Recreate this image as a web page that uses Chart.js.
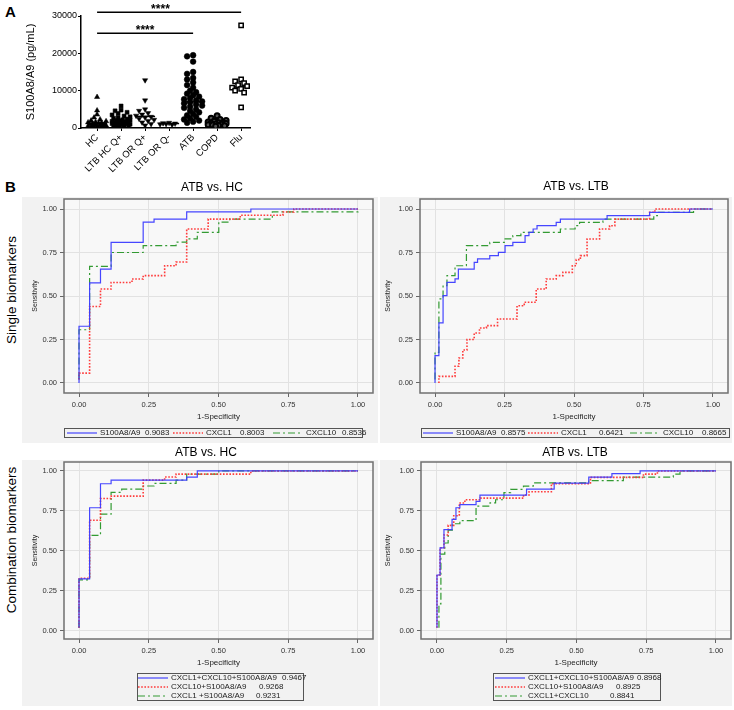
<!DOCTYPE html>
<html>
<head>
<meta charset="utf-8">
<script src="https://cdn.jsdelivr.net/npm/chart.js@4.4.0/dist/chart.umd.min.js"></script>
<style>
  body { margin: 0; background: #fff; width: 734px; height: 710px; position: relative; overflow: hidden;
         font-family: "Liberation Sans", Arial, sans-serif; }
  canvas { position: absolute; }
  .lbl { position: absolute; font-weight: bold; font-size: 15px; color: #000; }
  .side { position: absolute; height: 18px; line-height: 18px; text-align: center; white-space: nowrap;
          font-size: 13.5px; color: #000; transform: rotate(-90deg); transform-origin: center; }
</style>
</head>
<body>
<div class="lbl" style="left:5px;top:3px">A</div>
<div class="lbl" style="left:5px;top:178px">B</div>
<div class="side" style="left:-88px;top:281px;width:200px">Single biomarkers</div>
<div class="side" style="left:-88px;top:531px;width:200px">Combination biomarkers</div>

<canvas id="dotChart" width="262" height="178" style="left:0;top:0"></canvas>
<canvas id="rocHcSingle" width="380" height="268" style="left:0;top:176px"></canvas>
<canvas id="rocLtbSingle" width="354" height="268" style="left:380px;top:176px"></canvas>
<canvas id="rocHcCombo" width="380" height="266" style="left:0;top:444px"></canvas>
<canvas id="rocLtbCombo" width="354" height="266" style="left:380px;top:444px"></canvas>

<script>
// ---- panel A: S100A8/A9 levels per group ----
const groupNames = ['HC', 'LTB HC Q+', 'LTB OR Q+', 'LTB OR Q-', 'ATB', 'COPD', 'Flu'];
const hcValues = [8300, 4700, 3600, 2800, 2300, 2000, 1800, 1600, 1500, 1400, 1300, 1200, 1100, 1000, 900, 800, 700, 650, 600, 500, 450, 400, 350, 300, 200, 100];
const ltbHcValues = [5900, 4800, 4600, 4200, 3900, 3500, 3200, 3000, 2800, 2600, 2400, 2200, 2100, 2000, 1900, 1800, 1700, 1600, 1500, 1400, 1300, 1200, 1100, 1000, 900, 800, 700, 600, 500, 400];
const ltbOrPosValues = [12800, 7400, 5000, 4600, 4000, 3600, 3300, 3000, 2800, 2500, 2200, 1900, 1500, 1100, 700];
const ltbOrNegValues = [1400, 1300, 1200, 1100, 1000, 900];
const atbValues = [19500, 19200, 17800, 15000, 14500, 13400, 13000, 12200, 11500, 10800, 10000, 9600, 9200, 8800, 8400, 8000, 7700, 7400, 7100, 6900, 6600, 6300, 6000, 5700, 5400, 5000, 4600, 4200, 3800, 3400, 3000, 2600, 2300, 2000, 1700, 1400];
const copdValues = [3300, 2600, 2300, 2000, 1800, 1600, 1500, 1400, 1300, 1200, 1100, 1000, 900, 800, 700, 600, 500];
const fluValues = [27500, 13000, 12500, 12000, 11500, 11200, 10800, 10500, 10000, 9500, 5500];
const groupMedians = [1300, 1900, 3100, 1200, 7000, 1300, 11000];
const yTicksA = [0, 10000, 20000, 30000];
// significance brackets: from group, to group, height (pg/mL), label
const sigFrom = [0, 0];
const sigTo = [6, 4];
const sigLevel = [31000, 25400];
const sigLabel = ['****', '****'];

// ---- panel B: ROC curves, [1-specificity, sensitivity] ----
const rocTicks = [0, 0.25, 0.5, 0.75, 1];
const singleNames = ['S100A8/A9', 'CXCL1', 'CXCL10'];
const comboHcNames = ['CXCL1+CXCL10+S100A8/A9', 'CXCL10+S100A8/A9', 'CXCL1 +S100A8/A9'];
const comboLtbNames = ['CXCL1+CXCL10+S100A8/A9', 'CXCL10+S100A8/A9', 'CXCL1+CXCL10'];
const aucHcSingle = ['0.9083', '0.8003', '0.8536'];
const aucLtbSingle = ['0.8575', '0.6421', '0.8665'];
const aucHcCombo = ['0.9467', '0.9268', '0.9231'];
const aucLtbCombo = ['0.8968', '0.8925', '0.8841'];

const hcSingleS100 = [[0,0],[0,0.326],[0.038,0.575],[0.077,0.655],[0.115,0.808],[0.23,0.925],[0.269,0.942],[0.386,0.983],[0.616,1],[1,1]];
const hcSingleCxcl1 = [[0,0.02],[0,0.057],[0.038,0.44],[0.077,0.54],[0.115,0.578],[0.19,0.598],[0.23,0.617],[0.307,0.674],[0.348,0.695],[0.386,0.885],[0.463,0.942],[0.578,0.964],[0.731,0.983],[0.77,1],[1,1]];
const hcSingleCxcl10 = [[0,0.02],[0,0.306],[0.038,0.67],[0.115,0.75],[0.23,0.789],[0.348,0.81],[0.386,0.828],[0.424,0.866],[0.501,0.925],[0.54,0.942],[0.693,0.983],[1,1]];

const ltbSingleS100 = [[0,0],[0,0.157],[0.014,0.345],[0.029,0.502],[0.043,0.578],[0.072,0.598],[0.084,0.655],[0.141,0.693],[0.153,0.713],[0.197,0.732],[0.228,0.751],[0.252,0.789],[0.28,0.808],[0.324,0.847],[0.338,0.866],[0.353,0.885],[0.367,0.904],[0.436,0.923],[0.451,0.942],[0.619,0.962],[0.772,0.981],[0.916,1],[1,1]];
const ltbSingleCxcl1 = [[0.014,0],[0.014,0.038],[0.072,0.096],[0.086,0.144],[0.1,0.19],[0.115,0.25],[0.141,0.287],[0.16,0.316],[0.185,0.33],[0.225,0.368],[0.295,0.444],[0.321,0.464],[0.364,0.54],[0.4,0.598],[0.436,0.617],[0.46,0.636],[0.494,0.674],[0.508,0.709],[0.523,0.732],[0.547,0.828],[0.592,0.885],[0.628,0.904],[0.647,0.942],[0.772,0.981],[0.791,1],[1,1]];
const ltbSingleCxcl10 = [[0,0.02],[0,0.176],[0.014,0.483],[0.029,0.56],[0.043,0.617],[0.072,0.674],[0.113,0.789],[0.197,0.808],[0.252,0.828],[0.28,0.847],[0.309,0.866],[0.451,0.885],[0.504,0.904],[0.52,0.923],[0.604,0.942],[0.787,0.962],[0.8,0.981],[0.93,1],[1,1]];

const hcComboAll = [[0,0.02],[0,0.326],[0.038,0.77],[0.077,0.92],[0.115,0.943],[0.386,0.962],[0.424,1],[1,1]];
const hcComboCxcl10S100 = [[0,0.02],[0,0.33],[0.038,0.692],[0.077,0.828],[0.115,0.843],[0.23,0.943],[0.307,0.962],[0.348,0.98],[0.616,1],[1,1]];
const hcComboCxcl1S100 = [[0,0.02],[0,0.32],[0.038,0.598],[0.077,0.73],[0.115,0.866],[0.153,0.887],[0.23,0.906],[0.269,0.923],[0.348,0.943],[0.386,0.98],[0.501,1],[1,1]];

const ltbComboAll = [[0,0.02],[0,0.35],[0.011,0.52],[0.025,0.634],[0.054,0.697],[0.068,0.77],[0.082,0.79],[0.14,0.81],[0.154,0.849],[0.321,0.887],[0.42,0.924],[0.544,0.962],[0.627,0.983],[0.728,1],[1,1]];
const ltbComboCxcl10S100 = [[0,0.02],[0,0.35],[0.011,0.52],[0.025,0.6],[0.04,0.66],[0.06,0.72],[0.08,0.8],[0.1,0.82],[0.155,0.83],[0.31,0.85],[0.33,0.87],[0.41,0.92],[0.55,0.96],[0.74,0.98],[0.79,1],[1,1]];
const ltbComboCxcl1Cxcl10 = [[0.007,0.02],[0.007,0.17],[0.014,0.48],[0.028,0.55],[0.04,0.63],[0.055,0.67],[0.082,0.69],[0.14,0.78],[0.19,0.8],[0.21,0.82],[0.24,0.865],[0.264,0.885],[0.31,0.905],[0.345,0.925],[0.544,0.94],[0.668,0.962],[0.847,0.98],[0.871,1],[1,1]];

const FONT = '"Liberation Sans", Arial, sans-serif';
Chart.defaults.font.family = FONT;

// small beeswarm: spread each group's dots sideways a little, overlap allowed
function swarm(values, gi) {
  const pxX = 24, pxY = 112 / 30000, d = 4;
  const offsets = [0, -3, 3, -6, 6, -9, 9, -1.5, 1.5, -4.5, 4.5, -7.5, 7.5];
  const placed = [];
  return values.map(v => {
    const y = v * pxY;
    let best = 0, bestGap = -1;
    for (const c of offsets) {
      const gap = placed.length ? Math.min(...placed.map(p => Math.hypot(p.x - c, p.y - y))) : Infinity;
      if (gap >= d) { best = c; break; }
      if (gap > bestGap) { best = c; bestGap = gap; }
    }
    placed.push({ x: best, y: y });
    return { x: gi + best / pxX, y: v };
  });
}

const groupSets = [hcValues, ltbHcValues, ltbOrPosValues, ltbOrNegValues, atbValues, copdValues, fluValues];
const markerStyle = [
  { pointStyle: 'triangle', pointRadius: 3, pointBackgroundColor: '#000', pointBorderWidth: 0.5 },
  { pointStyle: 'rect', pointRadius: 2.8, pointBackgroundColor: '#000', pointBorderWidth: 0.5 },
  { pointStyle: 'triangle', pointRotation: 180, pointRadius: 3, pointBackgroundColor: '#000', pointBorderWidth: 0.5 },
  { pointStyle: 'triangle', pointRotation: 180, pointRadius: 3, pointBackgroundColor: '#000', pointBorderWidth: 0.5 },
  { pointStyle: 'circle', pointRadius: 2.9, pointBackgroundColor: '#000', pointBorderWidth: 0.5 },
  { pointStyle: 'circle', pointRadius: 2.5, pointBackgroundColor: '#555', pointBorderWidth: 2 },
  { pointStyle: 'rect', pointRadius: 3, pointBackgroundColor: '#fff', pointBorderWidth: 1.5 }
];

const sigBars = {
  id: 'sigBars',
  afterDraw(chart) {
    const { ctx, scales: { x, y } } = chart;
    ctx.save();
    ctx.strokeStyle = '#000';
    ctx.fillStyle = '#000';
    ctx.lineWidth = 1.5;
    ctx.font = 'bold 12px ' + FONT;
    ctx.textAlign = 'center';
    sigLabel.forEach((lab, i) => {
      const x1 = x.getPixelForValue(sigFrom[i]), x2 = x.getPixelForValue(sigTo[i]);
      const py = y.getPixelForValue(sigLevel[i]);
      ctx.beginPath(); ctx.moveTo(x1, py); ctx.lineTo(x2, py); ctx.stroke();
      const cx = i === 0 ? x1 + (x2 - x1) * 0.44 : (x1 + x2) / 2;
      ctx.fillText(lab, cx, py + 0.5);
    });
    ctx.restore();
  }
};

const dotDatasets = groupSets.map((vals, i) => Object.assign({
  label: groupNames[i],
  data: swarm(vals, i),
  borderColor: '#000'
}, markerStyle[i]));
dotDatasets.push({
  label: 'median',
  data: groupMedians.map((m, i) => ({ x: i, y: m })),
  pointStyle: 'line', pointRadius: 10, borderColor: '#000', pointBorderWidth: 1.5
});

new Chart(document.getElementById('dotChart'), {
  type: 'scatter',
  data: { datasets: dotDatasets },
  options: {
    responsive: false, animation: false,
    layout: { padding: { left: 16, top: 16, right: 12, bottom: 0 } },
    plugins: { legend: { display: false }, tooltip: { enabled: false } },
    scales: {
      x: {
        type: 'linear', min: -0.67, max: 6.37,
        afterBuildTicks: s => { s.ticks = groupNames.map((_, i) => ({ value: i })); },
        afterFit: s => { s.height = 50; },
        ticks: { callback: v => groupNames[v], minRotation: 45, maxRotation: 45, autoSkip: false,
                 font: { size: 9.5 }, color: '#000', padding: 1 },
        grid: { drawOnChartArea: false, tickLength: 3, tickColor: '#000' },
        border: { color: '#000', width: 1.5 }
      },
      y: {
        min: 0, max: 30000,
        afterBuildTicks: s => { s.ticks = yTicksA.map(v => ({ value: v })); },
        afterFit: s => { s.width = 65; },
        ticks: { callback: v => String(v), font: { size: 9 }, color: '#000', padding: 1 },
        grid: { drawOnChartArea: false, tickLength: 3, tickColor: '#000' },
        border: { color: '#000', width: 1.5 },
        title: { display: true, text: 'S100A8/A9 (pg/mL)', font: { size: 11 }, color: '#000', padding: { top: 8, bottom: 0 } }
      }
    }
  },
  plugins: [sigBars]
});

// ---- ROC panels ----
const lineStyles = [
  { borderColor: 'rgba(60,60,255,0.95)', borderWidth: 1.2, borderDash: [] },
  { borderColor: 'rgba(255,50,50,0.95)', borderWidth: 1.6, borderDash: [1.6, 1.6] },
  { borderColor: 'rgba(40,150,40,0.95)', borderWidth: 1.2, borderDash: [7, 3, 2, 3] }
];

const rocDecor = {
  id: 'rocDecor',
  beforeDraw(chart, args, o) {
    const { ctx, chartArea: a } = chart;
    const box = o.outer;
    ctx.save();
    ctx.fillStyle = '#f2f2f2';
    ctx.fillRect(box[0], box[1], box[2], box[3]);
    ctx.fillStyle = '#f8f8f8';
    ctx.fillRect(a.left, a.top, a.right - a.left, a.bottom - a.top);
    ctx.fillStyle = '#000';
    ctx.font = '12px ' + FONT;
    ctx.textAlign = 'center';
    ctx.textBaseline = 'middle';
    ctx.fillText(o.title, o.titleX, o.titleY);
    ctx.restore();
  },
  afterDraw(chart, args, o) {
    const { ctx, chartArea: a } = chart;
    const L = o.legend, bx = L.box, rows = L.items;
    ctx.save();
    ctx.strokeStyle = '#707070';
    ctx.lineWidth = 1.5;
    ctx.strokeRect(a.left, a.top, a.right - a.left, a.bottom - a.top);
    ctx.lineWidth = 1;
    ctx.strokeStyle = '#555';
    ctx.strokeRect(bx[0] + 0.5, bx[1] + 0.5, bx[2], bx[3]);
    ctx.font = '8px ' + FONT;
    ctx.textBaseline = 'middle';
    ctx.textAlign = 'left';
    chart.data.datasets.forEach((ds, i) => {
      const it = rows[i];
      ctx.save();
      ctx.strokeStyle = ds.borderColor;
      ctx.lineWidth = ds.borderWidth;
      ctx.setLineDash(ds.borderDash);
      ctx.beginPath();
      ctx.moveTo(it.s, it.y);
      ctx.lineTo(it.s + 30, it.y);
      ctx.stroke();
      ctx.restore();
      ctx.fillStyle = '#222';
      ctx.fillText(ds.label, it.s + 33, it.y);
      ctx.fillText(o.aucs[i], it.a, it.y);
    });
    ctx.restore();
  }
};

function makeRoc(id, curves, names, aucs, cfg) {
  const datasets = curves.map((c, i) => Object.assign({
    label: names[i],
    data: c.map(([x, y]) => ({ x: x, y: y })),
    stepped: 'before', pointRadius: 0, fill: false
  }, lineStyles[i]));
  return new Chart(document.getElementById(id), {
    type: 'line',
    data: { datasets: datasets },
    options: {
      responsive: false, animation: false,
      layout: { padding: cfg.padding },
      plugins: {
        legend: { display: false }, tooltip: { enabled: false },
        rocDecor: { outer: cfg.outer, title: cfg.title, titleX: cfg.titleX, titleY: cfg.titleY,
                    legend: cfg.legend, aucs: aucs }
      },
      scales: {
        x: {
          type: 'linear', min: cfg.xMin, max: cfg.xMax,
          afterBuildTicks: s => { s.ticks = rocTicks.map(v => ({ value: v })); },
          afterFit: s => { s.height = cfg.xHeight; },
          grid: { color: '#e2e2e2', tickColor: '#666', tickLength: 4 },
          border: { display: false },
          ticks: { callback: v => v.toFixed(2), font: { size: 7.5 }, color: '#333', padding: 3, maxRotation: 0 },
          title: { display: true, text: '1-Specificity', font: { size: 8 }, color: '#222', padding: { top: 0, bottom: cfg.xTitlePad } }
        },
        y: {
          type: 'linear', min: cfg.yMin, max: cfg.yMax,
          afterBuildTicks: s => { s.ticks = rocTicks.map(v => ({ value: v })); },
          afterFit: s => { s.width = cfg.yWidth; },
          grid: { color: '#e2e2e2', tickColor: '#666', tickLength: 4 },
          border: { display: false },
          ticks: { callback: v => v.toFixed(2), font: { size: 7.5 }, color: '#333', padding: 3 },
          title: { display: true, text: 'Sensitivity', font: { size: 7 }, color: '#222', padding: { top: cfg.yTitlePad, bottom: 0 } }
        }
      }
    },
    plugins: [rocDecor]
  });
}

const rowLegendLeft = { box: [64, 252, 298, 9], items: [{ s: 67, a: 145, y: 257 }, { s: 173, a: 240, y: 257 }, { s: 273, a: 342, y: 257 }] };
const rowLegendRight = { box: [41, 252, 308, 9], items: [{ s: 43, a: 121, y: 257 }, { s: 148, a: 219, y: 257 }, { s: 250, a: 322, y: 257 }] };
const colLegendLeft = { box: [137, 229, 166, 27], items: [{ s: 138, a: 282, y: 234 }, { s: 138, a: 259, y: 243 }, { s: 138, a: 256, y: 252 }] };
const colLegendRight = { box: [113, 229, 167, 27], items: [{ s: 115, a: 257, y: 234 }, { s: 115, a: 236, y: 243 }, { s: 115, a: 230, y: 252 }] };

makeRoc('rocHcSingle', [hcSingleS100, hcSingleCxcl1, hcSingleCxcl10], singleNames, aucHcSingle, {
  padding: { left: 22, right: 7, top: 23, bottom: 0 }, yWidth: 42, xHeight: 51,
  xMin: -0.0538, xMax: 1.0538, yMin: -0.0575, yMax: 1.0575, xTitlePad: 22, yTitlePad: 9,
  outer: [22, 21, 356, 246], title: 'ATB vs. HC', titleX: 212, titleY: 12, legend: rowLegendLeft
});
makeRoc('rocLtbSingle', [ltbSingleS100, ltbSingleCxcl1, ltbSingleCxcl10], singleNames, aucLtbSingle, {
  padding: { left: 0, right: 6, top: 23, bottom: 0 }, yWidth: 40, xHeight: 51,
  xMin: -0.054, xMax: 1.054, yMin: -0.0575, yMax: 1.0575, xTitlePad: 22, yTitlePad: 4,
  outer: [0, 21, 352, 246], title: 'ATB vs. LTB', titleX: 196, titleY: 11, legend: rowLegendRight
});
makeRoc('rocHcCombo', [hcComboAll, hcComboCxcl10S100, hcComboCxcl1S100], comboHcNames, aucHcCombo, {
  padding: { left: 22, right: 7, top: 18, bottom: 0 }, yWidth: 42, xHeight: 71,
  xMin: -0.0538, xMax: 1.0538, yMin: -0.05, yMax: 1.056, xTitlePad: 42, yTitlePad: 9,
  outer: [22, 16, 356, 246], title: 'ATB vs. HC', titleX: 206, titleY: 9, legend: colLegendLeft
});
makeRoc('rocLtbCombo', [ltbComboAll, ltbComboCxcl10S100, ltbComboCxcl1Cxcl10], comboLtbNames, aucLtbCombo, {
  padding: { left: 0, right: 3, top: 18, bottom: 0 }, yWidth: 41, xHeight: 71,
  xMin: -0.0573, xMax: 1.0538, yMin: -0.05, yMax: 1.056, xTitlePad: 42, yTitlePad: 4,
  outer: [0, 16, 352, 246], title: 'ATB vs. LTB', titleX: 195, titleY: 9, legend: colLegendRight
});
</script>
</body>
</html>
